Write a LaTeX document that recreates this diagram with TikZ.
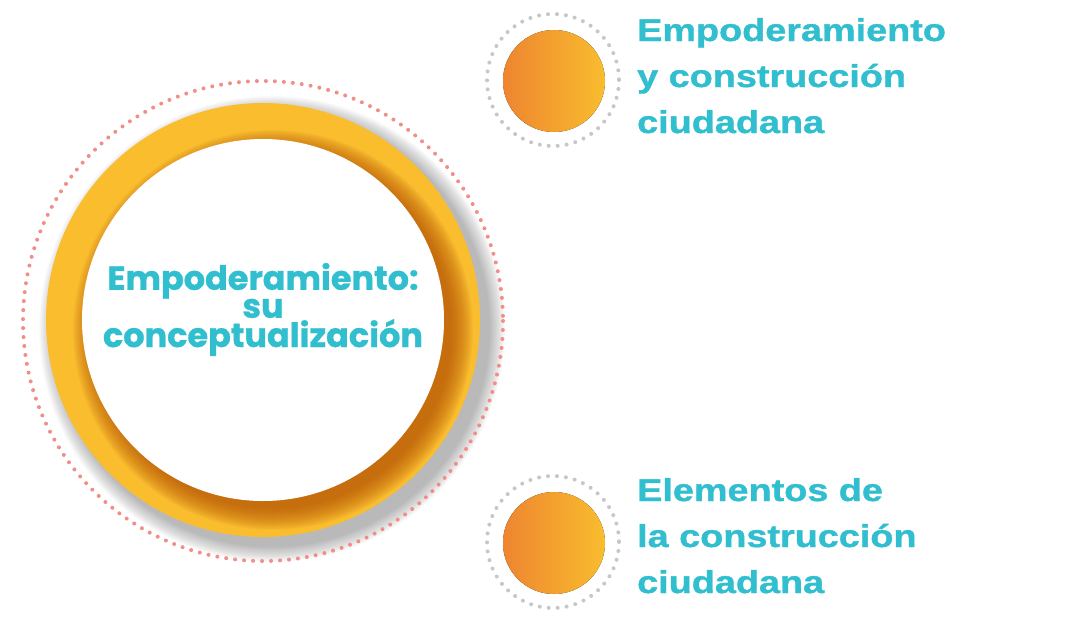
\documentclass[tikz,border=0pt]{standalone}
\usepackage{fontspec}
\usepackage{tikz}
\newfontfamily\centerfont{Poppins}[FakeBold=0.8]
\newfontfamily\sidefont{Liberation Sans}[FakeStretch=1.2, FakeBold=1.2]
\definecolor{tealtext}{HTML}{31BECF}
\definecolor{ringyellow}{HTML}{F9BD2E}
\definecolor{ringdark}{HTML}{B85408}
\definecolor{dotorange}{HTML}{EE8530}
\definecolor{dotpink}{HTML}{F08E88}
\definecolor{dotgray}{HTML}{C6C6CB}
\tikzset{
    dotring/.style={line width=4pt, line cap=round, dash pattern=on 0pt off 9pt},
    sidetext/.style={anchor=base west, inner sep=0pt, align=left, text=tealtext,
        font=\sidefont\bfseries\fontsize{31.5}{46}\selectfont},
    ball/.style={left color=dotorange, right color=ringyellow, draw=none},
}

\begin{document}
\begin{tikzpicture}[x=1pt,y=-1pt]
\useasboundingbox (0,0) rectangle (1091,640);

% soft shadow round the big ring
\foreach \k in {0,...,15}
    \fill[black, opacity=0.02] (272,329) circle ({233-\k});
\fill[ringyellow] (263,320) circle (217);
\begin{scope}
\clip (263,320) circle (217);
\foreach \k in {0,...,22}
    \fill[ringdark, opacity=0.05] (273,330) circle ({200-\k});
\end{scope}
\fill[white] (263,320) circle (181);
\draw[dotpink, dotring] (263,321) circle (240);

\node[inner sep=0pt, align=center, anchor=base, text=tealtext,
      font=\centerfont\bfseries\fontsize{33.5}{28}\selectfont] (concept) at (263,347)
      {Empoderamiento:\\su\\conceptualización};

% upper topic
\draw[dotgray, dotring] (553,80) circle (66);
\fill[ball] (554,81) circle (51);
\node[sidetext] (topicA) at (637,133) {Empoderamiento\\y construcción\\ciudadana};

% lower topic
\draw[dotgray, dotring] (553,542) circle (66);
\fill[ball] (554,543) circle (51);
\node[sidetext] (topicB) at (637,593) {Elementos de\\la construcción\\ciudadana};
\end{tikzpicture}
\end{document}
